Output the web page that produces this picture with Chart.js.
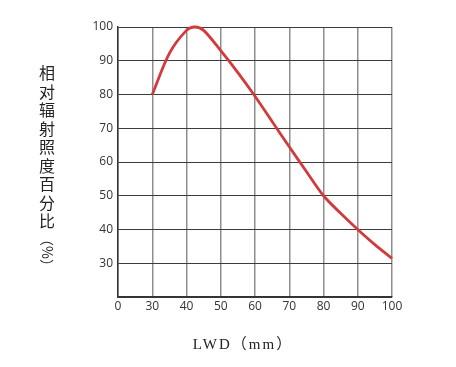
<!DOCTYPE html>
<html>
<head>
<meta charset="utf-8">
<script src="https://cdn.jsdelivr.net/npm/chart.js@4"></script>
<style>
  html, body { margin: 0; padding: 0; background: #fff; }
  #wrap { width: 456px; height: 367px; position: relative; }
</style>
</head>
<body>
<div id="wrap"><canvas id="chart" width="456" height="367"></canvas></div>
<script>
// 讀圖估計的數據 (LWD mm / 相對輻射照度 %)
const lwd = [30, 35, 40, 42.5, 45, 50, 55, 60, 65, 70, 75, 80, 85, 90, 95, 100];
const irradiance = [80, 92.2, 99, 100, 99, 93, 86.5, 79.5, 72, 64.5, 57.2, 50, 44.8, 40, 35.5, 31.4];
const yTitleChars = ['相', '对', '辐', '射', '照', '度', '百', '分', '比'];
const yTitleUnit = '（%）';
const xTitle = 'LWD（mm）';

// 軸標題: 直排中文 + 底部標題
const titlePlugin = {
    id: 'titles',
    afterDraw(chart) {
        const ctx = chart.ctx;
        ctx.save();
        ctx.fillStyle = '#222';
        ctx.textAlign = 'center';
        ctx.textBaseline = 'middle';
        ctx.font = '16px "Noto Sans CJK SC"';
        let y = 73;
        yTitleChars.forEach(c => {
            ctx.fillText(c, 47, y);
            y += 18.5;
        });
        ctx.translate(47, y + 13);
        ctx.rotate(Math.PI / 2);
        ctx.font = '14px "Noto Sans CJK SC"';
        ctx.fillText(yTitleUnit, 0, 0);
        ctx.restore();

        ctx.save();
        ctx.fillStyle = '#222';
        ctx.textAlign = 'center';
        ctx.textBaseline = 'middle';
        ctx.font = '15px "Liberation Serif", "Noto Sans CJK SC"';
        ctx.letterSpacing = '2px';
        ctx.fillText(xTitle, 243, 345);
        ctx.restore();
    }
};

new Chart(document.getElementById('chart'), {
    type: 'line',
    data: {
        datasets: [{
            data: lwd.map((x, i) => ({ x: x, y: irradiance[i] })),
            borderColor: '#d23a3c',
            borderWidth: 2.8,
            pointRadius: 0,
            tension: 0.3,
            clip: false,
            fill: false
        }]
    },
    options: {
        responsive: false,
        animation: false,
        layout: { padding: { top: 27, right: 64, left: 0, bottom: 0 } },
        plugins: { legend: { display: false }, tooltip: { enabled: false } },
        scales: {
            x: {
                type: 'linear',
                min: 20,
                max: 100,
                afterFit: scale => { scale.height = 70; },
                afterBuildTicks: scale => {
                    scale.ticks = [];
                    for (let v = 20; v <= 100; v += 10) scale.ticks.push({ value: v });
                },
                ticks: {
                    callback: v => (v === 20 ? '0' : v),
                    font: { family: '"Open Sans"', size: 12 },
                    color: '#333',
                    padding: 2,
                    maxRotation: 0
                },
                grid: { color: '#8e8e8e', lineWidth: 1.5, drawTicks: false },
                border: { color: '#333', width: 1.5 }
            },
            y: {
                min: 20,
                max: 100,
                afterFit: scale => { scale.width = 118; },
                afterBuildTicks: scale => {
                    scale.ticks = [];
                    for (let v = 20; v <= 100; v += 10) scale.ticks.push({ value: v });
                },
                ticks: {
                    callback: v => (v === 20 ? '' : v),
                    font: { family: '"Open Sans"', size: 12 },
                    color: '#333',
                    padding: 5
                },
                grid: { color: '#3c3c3c', lineWidth: 1, drawTicks: false },
                border: { color: '#333', width: 1.5 }
            }
        }
    },
    plugins: [titlePlugin]
});
</script>
</body>
</html>
